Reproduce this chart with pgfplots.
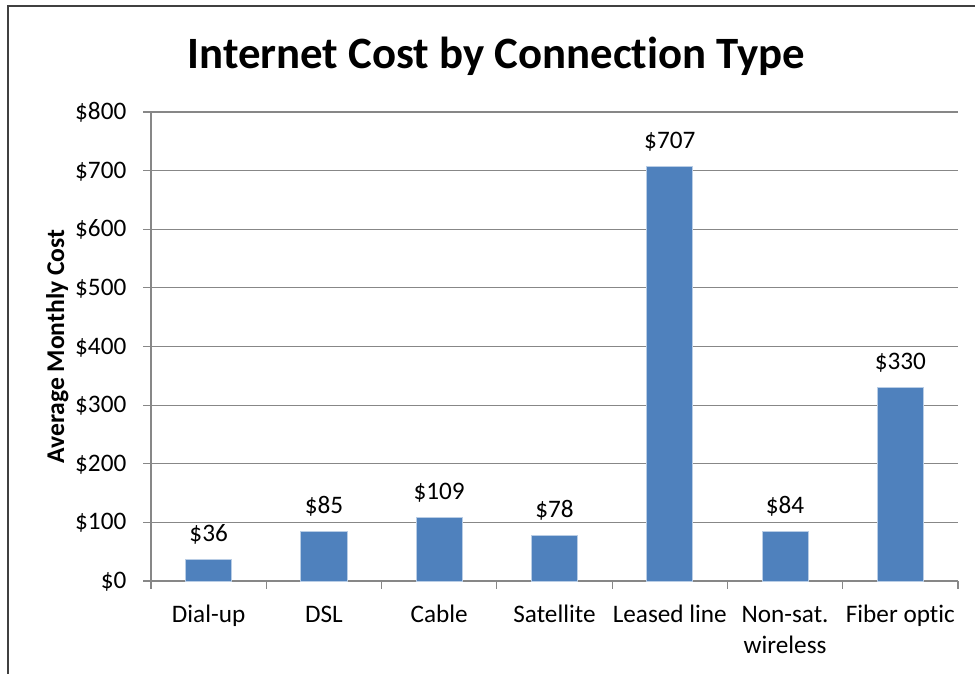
\documentclass[border=0pt]{standalone}
\usepackage{pgfplots}
\pgfplotsset{compat=1.18}
\usepackage{fontspec}
\setmainfont{Carlito}[Ligatures=NoCommon]

\definecolor{barblue}{HTML}{4F81BD}
\definecolor{baredge}{HTML}{B9CDE5}
\definecolor{gridgray}{HTML}{878787}
\definecolor{framegray}{HTML}{404040}

\begin{document}
\begin{tikzpicture}
    \useasboundingbox (0,0) rectangle (975pt,673pt);
    \clip (0,0) rectangle (975pt,673pt);
    \fill[white] (0,0) rectangle (975pt,673pt);
    % chart area border (cut off at right and bottom)
    \draw[framegray, line width=1.6pt] (8pt,-10pt) -- (8pt,667pt) -- (990pt,667pt);

    \begin{axis}[
            at={(151pt,92pt)}, anchor=south west,
            scale only axis,
            width=807pt, height=469pt,
            font=\fontsize{25.2}{30}\selectfont,
            /pgf/number format/assume math mode=true,
            title={Internet Cost by Connection Type},
            title style={font=\bfseries\fontsize{44.8}{53}\selectfont,
                at={(0.428,1.0917)}, anchor=base, inner sep=0pt, yshift=-6pt},
            ylabel={Average Monthly Cost},
            ylabel style={font=\bfseries\fontsize{25.6}{30}\selectfont,
                at={(axis description cs:-0.1078,0.5)}, anchor=base, inner sep=0pt},
            axis lines*=left,
            axis line style={gridgray, line width=1.2pt},
            ymin=0, ymax=800, ytick distance=100,
            xmin=-0.5, xmax=6.5,
            xtick={-0.5,0.5,...,6.5},
            x tick label as interval,
            xticklabels={Dial-up,DSL,Cable,Satellite,Leased line,
                {\begin{tabular}[t]{@{}c@{}}Non-sat.\\[1pt]wireless\end{tabular}},Fiber optic},
            xticklabel style={anchor=base, inner sep=0pt, yshift=-34pt},
            yticklabel={\$\pgfmathprintnumber{\tick}},
            yticklabel style={anchor=base east, inner sep=0pt, xshift=-17pt, yshift=-7.5pt},
            tick align=outside,
            major tick length=7.5pt,
            tick style={gridgray, line width=1.2pt},
            ymajorgrids,
            major grid style={gridgray, line width=1.2pt},
            ybar, bar width=0.4,
            nodes near coords={\$\pgfmathprintnumber{\pgfplotspointmeta}},
            every node near coord/.append style={anchor=base, inner sep=0pt, yshift=18pt},
        ]
        \addplot[fill=barblue, draw=baredge, line width=0.8pt] coordinates {
            (0,36) (1,85) (2,109) (3,78) (4,707) (5,84) (6,330)
        };
    \end{axis}
\end{tikzpicture}
\end{document}
